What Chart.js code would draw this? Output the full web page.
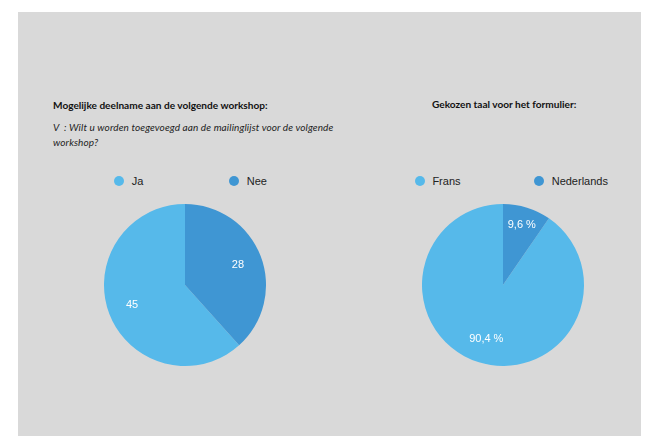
<!DOCTYPE html>
<html>
<head>
<meta charset="utf-8">
<script src="https://cdn.jsdelivr.net/npm/chart.js@4/dist/chart.umd.min.js"></script>
<style>
  html, body { margin: 0; padding: 0; background: #fff; width: 655px; height: 436px; overflow: hidden; }
  .panel { position: absolute; left: 18px; top: 12px; width: 623px; height: 424px; background: #d9d9d9; }
  .title { position: absolute; font-family: Lato, 'Open Sans', sans-serif; font-weight: 700; font-size: 10.1px; line-height: 12px; color: #111; white-space: nowrap; }
  .sub { position: absolute; font-family: Lato, 'Open Sans', sans-serif; font-style: italic; font-size: 10px; letter-spacing: 0.12px; line-height: 14.6px; color: #222; white-space: nowrap; }
  .legend-item { position: absolute; height: 14px; display: flex; align-items: center; font-family: 'Liberation Sans', Arial, sans-serif; font-size: 11px; color: #222; white-space: nowrap; }
  .dot { width: 10px; height: 10px; border-radius: 50%; margin-right: 7.4px; flex-shrink: 0; }
  canvas.pie { position: absolute; }
</style>
</head>
<body>
<div class="panel"></div>

<div class="title" style="left:53px; top:99px;">Mogelijke deelname aan de volgende workshop:</div>
<div class="sub" style="left:53px; top:120.4px;">V&nbsp;&nbsp;: Wilt u worden toegevoegd aan de mailinglijst voor de volgende<br>workshop?</div>
<div class="title" style="left:432px; top:98.3px;">Gekozen taal voor het formulier:</div>

<div id="legend1"></div>
<div id="legend2"></div>

<canvas id="pie1" class="pie" width="162" height="162" style="left:104px; top:204px;"></canvas>
<canvas id="pie2" class="pie" width="162" height="162" style="left:422px; top:204px;"></canvas>

<script>
// data
const deelnameLabels = ['Ja', 'Nee'];
const deelnameValues = [45, 28];

const taalLabels = ['Frans', 'Nederlands'];
const taalValues = [90.4, 9.6];

const pieColors = ['#56b9ea', '#3f96d3'];

// legend placement (dot left edge, px)
function buildLegend(el, labels, lefts) {
  labels.forEach((lab, i) => {
    const item = document.createElement('div');
    item.className = 'legend-item';
    item.style.left = lefts[i] + 'px';
    item.style.top = '173.7px';
    item.innerHTML = '<span class="dot" style="background:' + pieColors[i] + '"></span>' + lab;
    el.appendChild(item);
  });
}
buildLegend(document.getElementById('legend1'), deelnameLabels, [114.3, 229.3]);
buildLegend(document.getElementById('legend2'), taalLabels, [415, 534.3]);

// white value labels inside the slices
function sliceLabels(format, radii) {
  return {
    id: 'sliceLabels',
    afterDatasetsDraw(chart) {
      const ctx = chart.ctx;
      const meta = chart.getDatasetMeta(0);
      const values = chart.data.datasets[0].data;
      ctx.save();
      ctx.font = '11px "Liberation Sans", Arial, sans-serif';
      ctx.fillStyle = '#fff';
      ctx.textAlign = 'center';
      ctx.textBaseline = 'middle';
      meta.data.forEach((arc, i) => {
        const p = arc.getProps(['x', 'y', 'startAngle', 'endAngle', 'outerRadius'], true);
        const mid = (p.startAngle + p.endAngle) / 2;
        const r = p.outerRadius * radii[i];
        ctx.fillText(format(values[i]), p.x + Math.cos(mid) * r, p.y + Math.sin(mid) * r);
      });
      ctx.restore();
    }
  };
}

function makePie(id, labels, values, rotation, format, radii) {
  return new Chart(document.getElementById(id), {
    type: 'pie',
    data: {
      labels: labels,
      datasets: [{
        data: values,
        backgroundColor: pieColors,
        borderWidth: 0,
        hoverOffset: 0
      }]
    },
    options: {
      responsive: false,
      animation: false,
      rotation: rotation,
      layout: { padding: 0 },
      plugins: {
        legend: { display: false },
        tooltip: { enabled: false }
      }
    },
    plugins: [sliceLabels(format, radii)]
  });
}

const totDeelname = deelnameValues.reduce((a, b) => a + b, 0);
makePie('pie1', deelnameLabels, deelnameValues,
  360 * deelnameValues[1] / totDeelname,
  v => String(v), [0.7, 0.7]);

makePie('pie2', taalLabels, taalValues,
  360 * taalValues[1] / 100,
  v => v.toFixed(1).replace('.', ',') + ' %', [0.695, 0.78]);
</script>
</body>
</html>
